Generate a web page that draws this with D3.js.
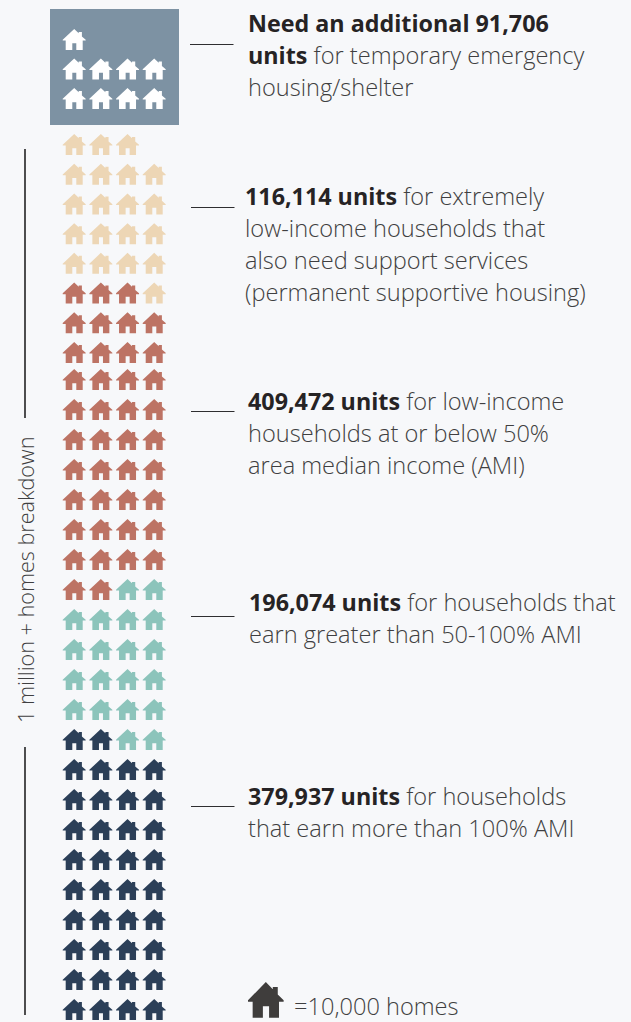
<!DOCTYPE html>
<html><head><meta charset="utf-8">
<style>html,body{margin:0;padding:0;background:#f7f8fa;overflow:hidden}svg{display:block}</style>
<script src="https://cdn.jsdelivr.net/npm/d3@7"></script>
</head><body><svg id="c" width="631" height="1022"></svg>
<script>
// Data: number of house icons per group (bottom-up fill)
const stackCategories = ["Above 100% AMI", "50-100% AMI", "Low income", "Extremely low income"];
const stackCounts = [38, 20, 41, 20];
const emergencyCount = 9;
const columns = [0, 1, 2, 3];
const rightToLeftRows = [14];
const noteBold = [["Need an additional 91,706", "units"], ["116,114 units"], ["409,472 units"], ["196,074 units"], ["379,937 units"]];
const noteRest = [
  ["", " for temporary emergency", "housing/shelter"],
  [" for extremely", "low-income households that", "also need support services", "(permanent supportive housing)"],
  [" for low-income", "households at or below 50%", "area median income (AMI)"],
  [" for households that", "earn greater than 50-100% AMI"],
  [" for households", "that earn more than 100% AMI"]
];
const sideLabel = "1 million + homes breakdown";
const legendLabel = "=10,000 homes";

// Styling and layout, kept apart from the data
const colors = ["#2b3f58", "#8cc4bb", "#bd7364", "#edd6b5"];
const noteLayout = [
  {x: 248, y: 32, lx: 190, ly: 44},
  {x: 245, y: 205, lx: 191, ly: 207},
  {x: 248, y: 410, lx: 191, ly: 411},
  {x: 249, y: 611, lx: 191, ly: 616},
  {x: 248, y: 805, lx: 191, ly: 806}
];
const housePath = "M11.5 0L16 4.2V3H19.2V7.4L23 10.8V11.6H20V21H13.6V14.2H9.6V21H3V11.6H0V10.8Z";

const svg = d3.select("#c");
const xCol = d3.scaleLinear().domain([0, 3]).range([62.7, 142.7]);
// bottom-up row index 0 = lowest row of the stack
const yRow = d3.scaleLinear().domain([0, 21, 22, 29]).range([999, 369, 342, 134]);
const yTop = d3.scaleLinear().domain([0, 2]).range([88, 29]);

function cells(counts) {
  const out = [];
  let i = 0;
  counts.forEach((n, g) => d3.range(n).forEach(() => {
    const row = Math.floor(i / columns.length);
    const c = i % columns.length;
    out.push({g, row, col: rightToLeftRows.includes(row) ? columns[columns.length - 1 - c] : columns[c]});
    i++;
  }));
  return out;
}

svg.append("rect").attr("x", 50).attr("y", 9).attr("width", 129).attr("height", 116).attr("fill", "#7d92a3");

svg.append("g").selectAll("path").data(cells([emergencyCount])).join("path")
  .attr("d", housePath).attr("fill", "#fff")
  .attr("transform", d => `translate(${xCol(d.col)},${yTop(d.row)})`);

svg.append("g").selectAll("path").data(cells(stackCounts)).join("path")
  .attr("d", housePath).attr("fill", d => colors[d.g])
  .attr("transform", d => `translate(${xCol(d.col)},${yRow(d.row)})`);

// notes
const font = "'Open Sans', sans-serif";
const notes = svg.append("g").style("font-family", font);
noteLayout.forEach((p, i) => {
  notes.append("line").attr("x1", p.lx).attr("x2", p.lx + 43.5).attr("y1", p.ly + 0.5).attr("y2", p.ly + 0.5)
    .attr("stroke", "#2e2e30").attr("stroke-width", 1);
  const n = Math.max(noteBold[i].length, noteRest[i].length);
  d3.range(n).forEach(k => {
    const t = notes.append("text").attr("x", p.x).attr("y", p.y + k * 32);
    if (noteBold[i][k]) t.append("tspan").text(noteBold[i][k]).attr("font-weight", 700).attr("fill", "#262324").style("font-size", "23.3px");
    if (noteRest[i][k]) t.append("tspan").text(noteRest[i][k]).attr("font-weight", 300).attr("fill", "#3f3f41").style("font-size", "23.6px");
  });
});

// side bracket
[[149, 418], [747, 1015]].forEach(r => svg.append("line")
  .attr("x1", 25).attr("x2", 25).attr("y1", r[0]).attr("y2", r[1])
  .attr("stroke", "#222224").attr("stroke-width", 1.6));
svg.append("text").attr("transform", "translate(34,723) rotate(-90)")
  .style("font-family", font).style("font-size", "21.6px").attr("font-weight", 300)
  .attr("fill", "#3f3f41").text(sideLabel);

// legend
svg.append("path").attr("d", housePath).attr("fill", "#3f3d3c")
  .attr("transform", "translate(248,982) scale(1.55,1.7)");
svg.append("text").attr("x", 294).attr("y", 1015)
  .style("font-family", font).style("font-size", "23.6px").attr("font-weight", 300)
  .attr("fill", "#3f3f41").text(legendLabel);
</script></body></html>
